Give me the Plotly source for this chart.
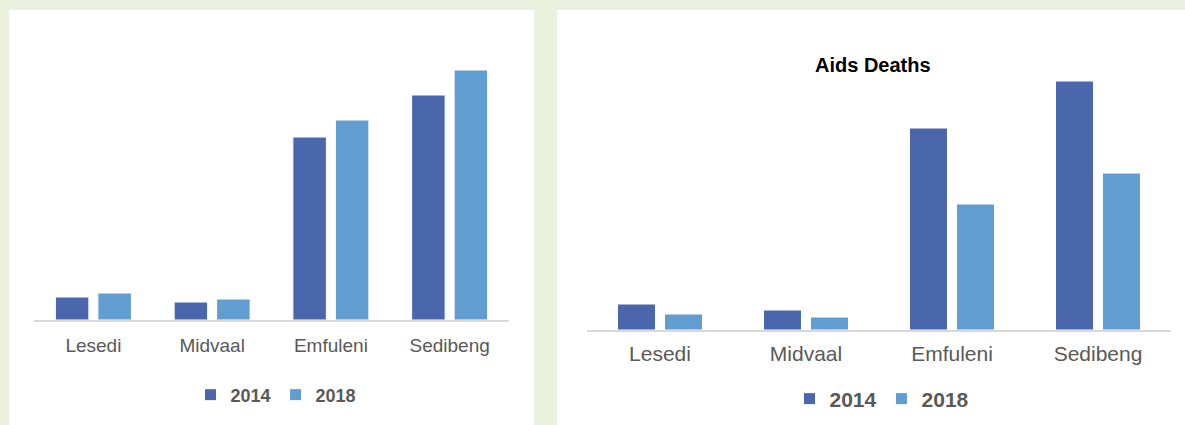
import plotly.graph_objects as go

# ---- data ----
categories = ["Lesedi", "Midvaal", "Emfuleni", "Sedibeng"]
years = ["2014", "2018"]
left_2014 = [23, 18, 183, 225]
left_2018 = [27, 21, 200, 250]
deaths_2014 = [26, 20, 202, 249]
deaths_2018 = [16, 13, 126, 157]
right_title = "Aids Deaths"

W, H = 1185, 425
C14 = "#4A66AC"
C18 = "#629DD1"
BG = "#EAF1DD"
TICK = "#595959"
SANS = "Liberation Sans, Arial, sans-serif"

def px(x):
    return x / W

def py(y):
    return 1 - y / H

fig = go.Figure()

# left chart bars
lw, lo = 0.282, 0.179
fig.add_trace(go.Bar(x=categories, y=left_2014, name=years[0], marker=dict(color=C14, line=dict(color="white", width=1)),
                     width=lw, offset=-lo - lw / 2, xaxis="x", yaxis="y", legend="legend"))
fig.add_trace(go.Bar(x=categories, y=left_2018, name=years[1], marker=dict(color=C18, line=dict(color="white", width=1)),
                     width=lw, offset=lo - lw / 2, xaxis="x", yaxis="y", legend="legend"))
# right chart bars
rw, ro = 0.26, 0.161
fig.add_trace(go.Bar(x=categories, y=deaths_2014, name=years[0], marker=dict(color=C14, line=dict(color="white", width=1)),
                     width=rw, offset=-ro - rw / 2, xaxis="x2", yaxis="y2", legend="legend2"))
fig.add_trace(go.Bar(x=categories, y=deaths_2018, name=years[1], marker=dict(color=C18, line=dict(color="white", width=1)),
                     width=rw, offset=ro - rw / 2, xaxis="x2", yaxis="y2", legend="legend2"))

fig.update_layout(
    width=W, height=H,
    margin=dict(l=0, r=0, t=0, b=0),
    paper_bgcolor=BG,
    plot_bgcolor="rgba(0,0,0,0)",
    barmode="overlay",
    xaxis=dict(domain=[px(34), px(509)], anchor="y", showline=True, linecolor="#D9D9D9", linewidth=2,
               ticks="", showgrid=False, ticklabelstandoff=7,
               tickfont=dict(family=SANS, size=19, color=TICK), fixedrange=True),
    yaxis=dict(domain=[py(320), py(20)], anchor="x", range=[0, 300], visible=False, showgrid=False),
    xaxis2=dict(domain=[px(587), px(1171)], anchor="y2", showline=True, linecolor="#D9D9D9", linewidth=2,
                ticks="", showgrid=False, ticklabelstandoff=4,
                tickfont=dict(family=SANS, size=21, color=TICK)),
    yaxis2=dict(domain=[py(330), py(30)], anchor="x2", range=[0, 300], visible=False, showgrid=False),
    legend=dict(orientation="h", x=px(276), y=py(395), xanchor="center", yanchor="middle",
                font=dict(family=SANS, size=18, color=TICK, weight="bold"), bgcolor="rgba(0,0,0,0)",
                itemwidth=30, traceorder="normal"),
    legend2=dict(orientation="h", x=px(882), y=py(399), xanchor="center", yanchor="middle",
                 font=dict(family=SANS, size=21, color=TICK, weight="bold"), bgcolor="rgba(0,0,0,0)",
                 itemwidth=30, traceorder="normal"),
    shapes=[
        dict(type="rect", xref="paper", yref="paper", x0=px(9), x1=px(534), y0=0, y1=py(10),
             fillcolor="white", line=dict(width=0), layer="below"),
        dict(type="rect", xref="paper", yref="paper", x0=px(557), x1=1, y0=0, y1=py(10),
             fillcolor="white", line=dict(width=0), layer="below"),
    ],
    annotations=[
        dict(text="<b>" + right_title + "</b>", xref="paper", yref="paper", x=px(873), y=py(65),
             xanchor="center", yanchor="middle", showarrow=False,
             font=dict(family=SANS, size=20, color="#000000")),
    ],
)

fig.write_html("out.html")
